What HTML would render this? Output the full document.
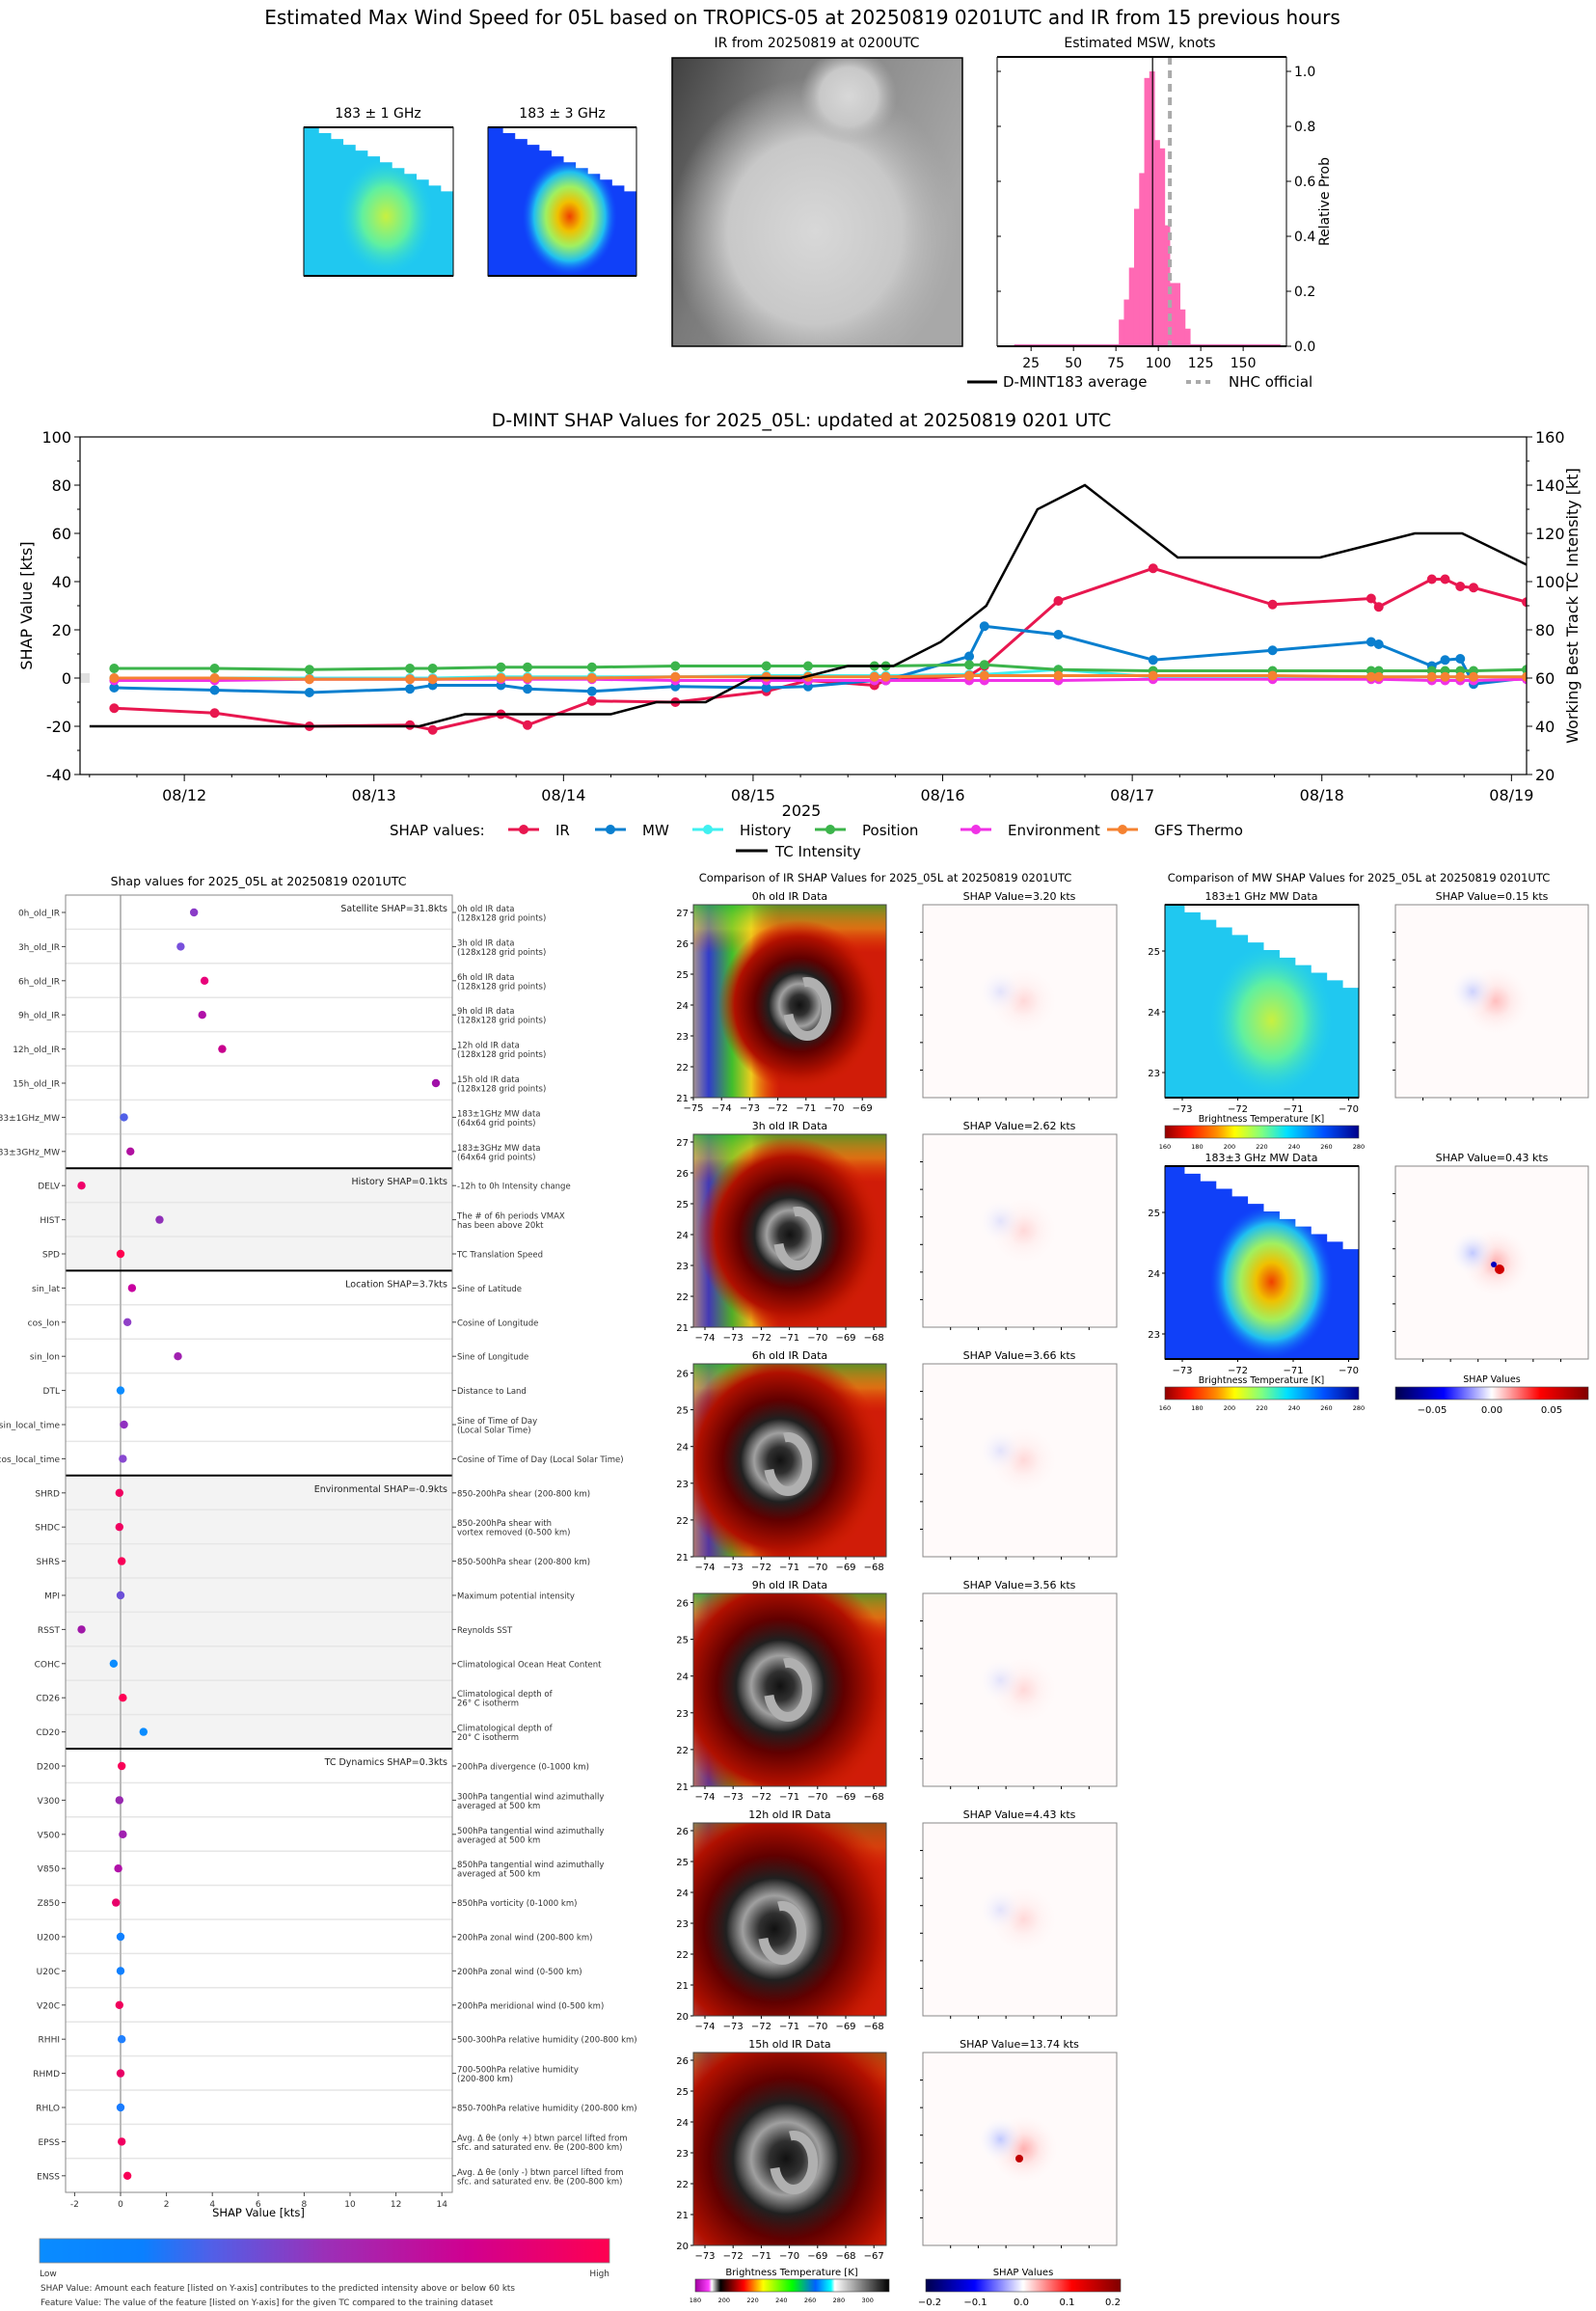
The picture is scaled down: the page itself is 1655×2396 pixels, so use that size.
<!DOCTYPE html>
<html><head><meta charset="utf-8">
<style>
html,body{margin:0;padding:0;background:#fff;}
svg{display:block;font-family:"DejaVu Sans","Liberation Sans",sans-serif;}
</style></head>
<body>
<svg id="fig" xmlns="http://www.w3.org/2000/svg" width="1655" height="2396" viewBox="0 0 1655 2396">
<defs>
<linearGradient id="irLeft" x1="0" x2="1" y1="0" y2="0">
<stop offset="0" stop-color="#a0a0a0"/><stop offset="0.08" stop-color="#2040e0"/><stop offset="0.2" stop-color="#30d030"/><stop offset="0.3" stop-color="#f0e020"/><stop offset="0.45" stop-color="#ff5000" stop-opacity="0"/>
</linearGradient>
<linearGradient id="irTop" x1="0" x2="0" y1="0" y2="1">
<stop offset="0" stop-color="#30c030"/><stop offset="0.5" stop-color="#f0e020" stop-opacity="0.6"/><stop offset="1" stop-color="#ff5000" stop-opacity="0"/>
</linearGradient>
<radialGradient id="irCore" cx="0.5" cy="0.5" r="0.5">
<stop offset="0" stop-color="#111"/><stop offset="0.12" stop-color="#303030"/><stop offset="0.25" stop-color="#a0a0a0"/><stop offset="0.38" stop-color="#202020"/><stop offset="0.55" stop-color="#600000"/><stop offset="0.8" stop-color="#b01000"/><stop offset="1" stop-color="#d02000" stop-opacity="0"/>
</radialGradient>
<radialGradient id="grayCore" cx="0.5" cy="0.5" r="0.5">
<stop offset="0" stop-color="#d8d8d8"/><stop offset="0.6" stop-color="#c8c8c8"/><stop offset="1" stop-color="#b0b0b0" stop-opacity="0"/>
</radialGradient>
<linearGradient id="grayBase" x1="0" x2="1" y1="0" y2="0.4">
<stop offset="0" stop-color="#404040"/><stop offset="0.35" stop-color="#7a7a7a"/><stop offset="1" stop-color="#a8a8a8"/>
</linearGradient>
<radialGradient id="mw1Core" cx="0.5" cy="0.5" r="0.5">
<stop offset="0" stop-color="#c8f040"/><stop offset="0.5" stop-color="#60f0a0"/><stop offset="1" stop-color="#20d0f0" stop-opacity="0"/>
</radialGradient>
<radialGradient id="mw2Core" cx="0.5" cy="0.5" r="0.5">
<stop offset="0" stop-color="#f04000"/><stop offset="0.25" stop-color="#f0c000"/><stop offset="0.5" stop-color="#a0f060"/><stop offset="0.75" stop-color="#20c0f0"/><stop offset="1" stop-color="#1050ff" stop-opacity="0"/>
</radialGradient>
<radialGradient id="shapCore" cx="0.5" cy="0.5" r="0.5">
<stop offset="0" stop-color="#ffb0b0"/><stop offset="0.4" stop-color="#ffe6e6"/><stop offset="1" stop-color="#fff" stop-opacity="0"/>
</radialGradient>
<radialGradient id="shapBlue" cx="0.5" cy="0.5" r="0.5">
<stop offset="0" stop-color="#c0c8ff"/><stop offset="1" stop-color="#fff" stop-opacity="0"/>
</radialGradient>
<linearGradient id="cbShap" x1="0" x2="1">
<stop offset="0" stop-color="#0a8cff"/><stop offset="0.18" stop-color="#0a80ff"/><stop offset="0.3" stop-color="#5060e8"/><stop offset="0.5" stop-color="#9b30b8"/><stop offset="0.75" stop-color="#d00090"/><stop offset="1" stop-color="#ff0050"/>
</linearGradient>
<linearGradient id="cbJet" x1="0" x2="1">
<stop offset="0" stop-color="#900000"/><stop offset="0.12" stop-color="#ff1000"/><stop offset="0.27" stop-color="#ff9000"/><stop offset="0.36" stop-color="#ffff00"/><stop offset="0.5" stop-color="#80ff80"/><stop offset="0.63" stop-color="#00e0ff"/><stop offset="0.82" stop-color="#0050ff"/><stop offset="1" stop-color="#00008a"/>
</linearGradient>
<linearGradient id="cbIR" x1="0" x2="1">
<stop offset="0" stop-color="#a000a0"/><stop offset="0.07" stop-color="#ff40ff"/><stop offset="0.085" stop-color="#ffffff"/><stop offset="0.13" stop-color="#000000"/><stop offset="0.25" stop-color="#ff0000"/><stop offset="0.35" stop-color="#ffff00"/><stop offset="0.5" stop-color="#00ff00"/><stop offset="0.62" stop-color="#0060ff"/><stop offset="0.7" stop-color="#00ffff"/><stop offset="0.72" stop-color="#ffffff"/><stop offset="1" stop-color="#000000"/>
</linearGradient>
<linearGradient id="cbSeis" x1="0" x2="1">
<stop offset="0" stop-color="#00004c"/><stop offset="0.25" stop-color="#0000ff"/><stop offset="0.5" stop-color="#ffffff"/><stop offset="0.75" stop-color="#ff0000"/><stop offset="1" stop-color="#800000"/>
</linearGradient>
<clipPath id="tsClip"><rect x="83" y="453" width="1500" height="350"/></clipPath>
</defs>
</svg>
<script>
// ---------- Time-series data ----------
const tsTimes=[0.63,1.16,1.66,2.19,2.31,2.67,2.81,3.15,3.59,4.07,4.29,4.64,4.70,5.14,5.22,5.61,6.11,6.74,7.26,7.30,7.58,7.65,7.73,7.80,8.08];
const irVals=[-12.5,-14.5,-20,-19.5,-21.5,-15,-19.5,-9.5,-10,-5.5,-1,-3,-1,1,5,32,45.5,30.5,33,29.5,41,41,38,37.5,31.5];
const mwVals=[-4,-5,-6,-4.5,-3,-3,-4.5,-5.5,-3.5,-4,-3.5,-1,-1,9,21.5,18,7.5,11.5,15,14,5,7.5,8,-2.5,0];
const historyVals=[0,0,0,0,0,0.5,0.5,0.5,0.5,1,1,1,1,1.5,1.5,3.5,0.5,0.5,0.5,0.5,0.5,0.5,0.5,0.5,0.5];
const positionVals=[4,4,3.5,4,4,4.5,4.5,4.5,5,5,5,5,5,5.5,5.5,3.5,3,3,3,3,3,3,3,3,3.5];
const environmentVals=[-1,-1,-0.5,-0.5,-0.5,-0.5,-0.5,-0.5,-1,-1,-1,-1,-1,-1,-1,-1,-0.5,-0.5,-0.5,-0.5,-1,-1,-1,-1,-0.5];
const gfsVals=[0,0,-0.5,-0.5,-0.5,0,0,0,0.5,0.5,0.5,0.5,0.5,1,1,1,1,1,0.5,0.5,0.5,0.5,0.5,0.5,0.5];
const tcTimes=[0.5,2.24,2.48,3.25,3.49,3.75,3.99,4.25,4.5,4.74,4.99,5.23,5.5,5.75,6.24,6.99,7.49,7.74,8.08];
const tcVals=[40,40,45,45,50,50,60,60,65,65,75,90,130,140,110,110,120,120,107];
const dateLabels=["08/12","08/13","08/14","08/15","08/16","08/17","08/18","08/19"];
const leftTicks=[-40,-20,0,20,40,60,80,100];
const rightTicks=[20,40,60,80,100,120,140,160];
// ---------- Histogram data ----------
const histBinStart=[76.7,79.7,82.7,85.7,88.7,91.7,94.7,97.7,100.7,103.7,106.7,109.7,112.7,115.7];
const histProbs=[0.097,0.17,0.286,0.50,0.63,0.976,1.0,0.75,0.72,0.44,0.23,0.23,0.134,0.064];
const mintAverage=96.6;
const nhcOfficial=106.8;
const histXTicks=[25,50,75,100,125,150];
const histYTicks=[0,0.2,0.4,0.6,0.8,1.0];
// ---------- SHAP feature data ----------
const featureNames=["0h_old_IR","3h_old_IR","6h_old_IR","9h_old_IR","12h_old_IR","15h_old_IR","183\u00b11GHz_MW","183\u00b13GHz_MW","DELV","HIST","SPD","sin_lat","cos_lon","sin_lon","DTL","sin_local_time","cos_local_time","SHRD","SHDC","SHRS","MPI","RSST","COHC","CD26","CD20","D200","V300","V500","V850","Z850","U200","U20C","V20C","RHHI","RHMD","RHLO","EPSS","ENSS"];
const featureShap=[3.20,2.62,3.66,3.56,4.43,13.74,0.15,0.43,-1.7,1.7,0.0,0.5,0.3,2.5,0.0,0.15,0.1,-0.05,-0.05,0.05,0.0,-1.7,-0.3,0.1,1.0,0.05,-0.05,0.1,-0.1,-0.2,0.0,0.0,-0.05,0.05,0.0,0.0,0.05,0.3];
const featureColors=["#8a3cc8","#7850dc","#e8007a","#b010a8","#c8008e","#a010a8","#5060e8","#b010a0","#f0006a","#9030b8","#ff0050","#c800a0","#9040c8","#a020b0","#0a8cff","#9030c0","#8848d0","#f00060","#f00060","#f80058","#6c50d8","#a018a8","#0a8cff","#ff0055","#0a8cff","#f80058","#9828b0","#a020b0","#b010a8","#e8006a","#1080ff","#1080ff","#f0005c","#2080ff","#e80066","#1a7cff","#f00060","#f80058"];
const featureDesc=[["0h old IR data","(128x128 grid points)"],["3h old IR data","(128x128 grid points)"],["6h old IR data","(128x128 grid points)"],["9h old IR data","(128x128 grid points)"],["12h old IR data","(128x128 grid points)"],["15h old IR data","(128x128 grid points)"],["183\u00b11GHz MW data","(64x64 grid points)"],["183\u00b13GHz MW data","(64x64 grid points)"],["-12h to 0h Intensity change"],["The # of 6h periods VMAX","has been above 20kt"],["TC Translation Speed"],["Sine of Latitude"],["Cosine of Longitude"],["Sine of Longitude"],["Distance to Land"],["Sine of Time of Day","(Local Solar Time)"],["Cosine of Time of Day (Local Solar Time)"],["850-200hPa shear (200-800 km)"],["850-200hPa shear with","vortex removed (0-500 km)"],["850-500hPa shear (200-800 km)"],["Maximum potential intensity"],["Reynolds SST"],["Climatological Ocean Heat Content"],["Climatological depth of","26\u00b0 C isotherm"],["Climatological depth of","20\u00b0 C isotherm"],["200hPa divergence (0-1000 km)"],["300hPa tangential wind azimuthally","averaged at 500 km"],["500hPa tangential wind azimuthally","averaged at 500 km"],["850hPa tangential wind azimuthally","averaged at 500 km"],["850hPa vorticity (0-1000 km)"],["200hPa zonal wind (200-800 km)"],["200hPa zonal wind (0-500 km)"],["200hPa meridional wind (0-500 km)"],["500-300hPa relative humidity (200-800 km)"],["700-500hPa relative humidity","(200-800 km)"],["850-700hPa relative humidity (200-800 km)"],["Avg. \u0394 \u03b8e (only +) btwn parcel lifted from","sfc. and saturated env. \u03b8e (200-800 km)"],["Avg. \u0394 \u03b8e (only -) btwn parcel lifted from","sfc. and saturated env. \u03b8e (200-800 km)"]];
const sectionStarts=[0,8,11,17,25];
const sectionLabels=["Satellite SHAP=31.8kts","History SHAP=0.1kts","Location SHAP=3.7kts","Environmental SHAP=-0.9kts","TC Dynamics SHAP=0.3kts"];
const sectionShaded=[false,true,false,true,false];
const shapXTicks=[-2,0,2,4,6,8,10,12,14];
// ---------- Image panel data ----------
const irTitles=["0h old IR Data","3h old IR Data","6h old IR Data","9h old IR Data","12h old IR Data","15h old IR Data"];
const irShapTitles=["SHAP Value=3.20 kts","SHAP Value=2.62 kts","SHAP Value=3.66 kts","SHAP Value=3.56 kts","SHAP Value=4.43 kts","SHAP Value=13.74 kts"];
const irLatLabels=[[21,27],[21,27],[21,26],[21,26],[20,26],[20,26]];
const irLonLabels=[[-75,-69],[-74,-68],[-74,-68],[-74,-68],[-74,-68],[-73,-67]];

const NS="http://www.w3.org/2000/svg";
const svg=document.getElementById('fig');
function mk(tag,a,p){const e=document.createElementNS(NS,tag);for(const k in a)e.setAttribute(k,a[k]);(p||svg).appendChild(e);return e;}
function T(x,y,s,size,anchor,p,extra){const e=mk('text',Object.assign({x:x,y:y,'font-size':size,'text-anchor':anchor||'start',fill:'#000'},extra||{}),p);e.textContent=s;return e;}

// ===== Top title =====
let t=T(832,25,"Estimated Max Wind Speed for 05L based on TROPICS-05 at 20250819 0201UTC and IR from 15 previous hours",20,'middle');


// ===== MW thumbnails =====
function mwImage(x,y,w,h,base,core,name){
  const g=mk('g',{});
  
  const cid='c'+name;const cp=mk('clipPath',{id:cid},g);mk('rect',{x:x,y:y,width:w,height:h},cp);
  const gi=mk('g',{'clip-path':'url(#'+cid+')'},g);
  mk('rect',{x:x,y:y,width:w,height:h,fill:base},gi);
  mk('ellipse',{cx:x+w*0.55,cy:y+h*0.6,rx:w*0.32,ry:h*0.4,fill:'url(#'+core+')'},gi);
  let pts=[x+w*0.02+','+y];const n=12;
  for(let i=0;i<=n;i++){const xx=x+w*0.02+(w*0.98)*i/n;const yy=y+h*0.47*i/n;pts.push(xx+','+yy);pts.push((xx+w*0.98/n)+','+yy);}
  pts.push((x+w)+','+y);
  mk('polygon',{points:pts.join(' '),fill:'#fff'},gi);
  mk('rect',{x:x,y:y,width:w,height:h,fill:'none',stroke:'#000','stroke-width':1},g);
  mk('line',{x1:x,y1:y,x2:x+w,y2:y,stroke:'#000','stroke-width':2},g);
  mk('line',{x1:x,y1:y+h,x2:x+w,y2:y+h,stroke:'#000','stroke-width':2},g);
  return g;
}
mwImage(315,132,155,154,'#20c8f0','mw1Core','mw-183-1-image');
mwImage(506,132,154,154,'#1040f8','mw2Core','mw-183-3-image');
t=T(392,122,"183 \u00b1 1 GHz",14,'middle');
t=T(583,122,"183 \u00b1 3 GHz",14,'middle');

// ===== Gray IR =====
(function(){
  const g=mk('g',{});
  const cp=mk('clipPath',{id:'cgray'},g);mk('rect',{x:697,y:60,width:301,height:299},cp);
  const gi=mk('g',{'clip-path':'url(#cgray)'},g);
  mk('rect',{x:697,y:60,width:301,height:299,fill:'url(#grayBase)'},gi);
  mk('ellipse',{cx:845,cy:240,rx:150,ry:160,fill:'url(#grayCore)'},gi);
  mk('ellipse',{cx:880,cy:100,rx:50,ry:50,fill:'url(#grayCore)'},gi);
  mk('rect',{x:697,y:60,width:301,height:299,fill:'none',stroke:'#000','stroke-width':1.5},g);
})();
t=T(847,49,"IR from 20250819 at 0200UTC",14,'middle');

// ===== Histogram =====
(function(){
  const L=1034,R=1334,TOP=59,B=359;const xmin=5,xmax=175.5;
  const hx=v=>L+(v-xmin)/(xmax-xmin)*(R-L);const hy=v=>B-v*285;
  const g=mk('g',{});
  t=T(1182,49,"Estimated MSW, knots",14,'middle',g);
  mk('line',{x1:hx(15),x2:hx(172),y1:hy(0.004),y2:hy(0.004),stroke:'#ff69b4','stroke-width':2},g);
  histProbs.forEach((p,i)=>{const b=mk('rect',{x:hx(histBinStart[i]),y:hy(p),width:hx(histBinStart[i]+3)-hx(histBinStart[i])+0.5,height:B-hy(p),fill:'#ff69b4'},g);
    });
  let l=mk('line',{x1:hx(mintAverage),x2:hx(mintAverage),y1:TOP,y2:B,stroke:'#000','stroke-width':1.2},g);
  
  l=mk('line',{x1:hx(nhcOfficial),x2:hx(nhcOfficial),y1:TOP,y2:B,stroke:'#aaa','stroke-width':4,'stroke-dasharray':'8,6'},g);
  
  mk('line',{x1:L,x2:L,y1:TOP,y2:B,stroke:'#000','stroke-width':1},g);
  mk('line',{x1:R,x2:R,y1:TOP,y2:B,stroke:'#000','stroke-width':1},g);
  mk('line',{x1:L,x2:R,y1:TOP,y2:TOP,stroke:'#000','stroke-width':2},g);
  mk('line',{x1:L,x2:R,y1:B,y2:B,stroke:'#000','stroke-width':2},g);
  histXTicks.forEach(v=>{mk('line',{x1:hx(v),x2:hx(v),y1:B,y2:B+5,stroke:'#000'},g);const tt=T(hx(v),B+22,String(v),14,'middle',g);});
  histYTicks.forEach(v=>{mk('line',{x1:R,x2:R+5,y1:hy(v),y2:hy(v),stroke:'#000'},g);mk('line',{x1:L,x2:L+4,y1:hy(v),y2:hy(v),stroke:'#000'},g);const tt=T(R+8,hy(v)+5,v.toFixed(1),14,'start',g);});
  t=T(0,0,"Relative Prob",14,'middle',g,{transform:'translate(1378,209) rotate(-90)'});
  mk('line',{x1:1003,x2:1034,y1:396,y2:396,stroke:'#000','stroke-width':3},g);
  t=T(1040,401,"D-MINT183 average",15,'start',g);
  mk('line',{x1:1230,x2:1258,y1:396,y2:396,stroke:'#aaa','stroke-width':4,'stroke-dasharray':'5,5'},g);
  t=T(1274,401,"NHC official",15,'start',g);
})();

// ===== Time series =====
(function(){
  const L=83,R=1583,TOP=453,B=803;
  const X=d=>L+(d-0.45)*196.6;const YL=v=>B-(v+40)*2.5;const YR=v=>B-(v-20)*2.5;
  const g=mk('g',{});
  t=T(831,442,"D-MINT SHAP Values for 2025_05L: updated at 20250819 0201 UTC",19,'middle',g);
  mk('rect',{x:L,y:YL(0)-5,width:10,height:10,fill:'#e0e0e0'},g);
  const series=[["ir",irVals,"#e8174f"],["mw",mwVals,"#0a7fcf"],["history",historyVals,"#40f0f0"],["position",positionVals,"#3cb44b"],["environment",environmentVals,"#f032e6"],["gfs-thermo",gfsVals,"#f58231"]];
  const cg=mk('g',{'clip-path':'url(#tsClip)'},g);
  const order=[2,0,1,3,4,5];
  order.forEach(si=>{const s=series[si];
    const pl=mk('polyline',{points:tsTimes.map((d,i)=>X(d)+','+YL(s[1][i])).join(' '),fill:'none',stroke:s[2],'stroke-width':3},cg);
    
    tsTimes.forEach((d,i)=>{const c=mk('circle',{cx:X(d),cy:YL(s[1][i]),r:5,fill:s[2]},cg);});
  });
  const tc=mk('polyline',{points:tcTimes.map((d,i)=>X(d)+','+YR(tcVals[i])).join(' '),fill:'none',stroke:'#000','stroke-width':2.5},cg);
  
  mk('rect',{x:L,y:TOP,width:R-L,height:B-TOP,fill:'none',stroke:'#000','stroke-width':1.2},g);
  leftTicks.forEach(v=>{mk('line',{x1:L-6,x2:L,y1:YL(v),y2:YL(v),stroke:'#000'},g);const tt=T(L-9,YL(v)+6,String(v),16,'end',g);});
  for(let v=-30;v<100;v+=20){mk('line',{x1:L-3,x2:L,y1:YL(v),y2:YL(v),stroke:'#000'},g);}
  rightTicks.forEach(v=>{mk('line',{x1:R,x2:R+6,y1:YR(v),y2:YR(v),stroke:'#000'},g);const tt=T(R+9,YR(v)+6,String(v),16,'start',g);});
  for(let v=30;v<160;v+=20){mk('line',{x1:R,x2:R+3,y1:YR(v),y2:YR(v),stroke:'#000'},g);}
  dateLabels.forEach((s,i)=>{const x=X(i+1);mk('line',{x1:x,x2:x,y1:B,y2:B+7,stroke:'#000'},g);const tt=T(x,B+27,s,16,'middle',g);});
  for(let d=0.5;d<8.1;d+=0.25){if(Math.abs(d-Math.round(d))>0.01)mk('line',{x1:X(d),x2:X(d),y1:B,y2:B+3,stroke:'#000'},g);}
  t=T(831,846,"2025",16,'middle',g);
  t=T(0,0,"SHAP Value [kts]",16,'middle',g,{transform:'translate(33,628) rotate(-90)'});
  t=T(0,0,"Working Best Track TC Intensity [kt]",16,'middle',g,{transform:'translate(1636,628) rotate(-90)'});
  // legend
  t=T(404,866,"SHAP values:",15,'start',g);
  const lm=[543,633,734,861,1012,1164],lt=[576,666,767,894,1045,1197],labs=["IR","MW","History","Position","Environment","GFS Thermo"];
  series.forEach((s,i)=>{const lg=mk('g',{},g);
    mk('line',{x1:lm[i]-16,x2:lm[i]+16,y1:860,y2:860,stroke:s[2],'stroke-width':3},lg);mk('circle',{cx:lm[i],cy:860,r:5,fill:s[2]},lg);T(lt[i],866,labs[i],15,'start',lg);});
  const lg=mk('g',{},g);
  mk('line',{x1:763,x2:796,y1:882,y2:882,stroke:'#000','stroke-width':3},lg);T(804,888,"TC Intensity",15,'start',lg);
})();

// ===== SHAP dot plot =====
(function(){
  const L=68,R=469,TOP=928,B=2273,rh=35.4;
  const X=v=>125+v*23.8;const Y=i=>946+i*rh;
  const g=mk('g',{});
  t=T(268,918,"Shap values for 2025_05L at 20250819 0201UTC",12.5,'middle',g);
  sectionStarts.forEach((s,k)=>{const e=k<4?sectionStarts[k+1]:38;
    if(sectionShaded[k])mk('rect',{x:L,y:TOP+s*rh,width:R-L,height:(e-s)*rh,fill:'#f3f3f3'},g);
    const st=T(R-5,Y(s)-1,sectionLabels[k],9.5,'end',g,{fill:'#222'});});
  for(let i=1;i<38;i++){mk('line',{x1:L,x2:R,y1:TOP+i*rh,y2:TOP+i*rh,stroke:'#e6e6e6','stroke-width':1.5},g);}
  mk('line',{x1:X(0),x2:X(0),y1:TOP,y2:B,stroke:'#bbb','stroke-width':2},g);
  sectionStarts.slice(1).forEach(s=>mk('line',{x1:L,x2:R,y1:TOP+s*rh,y2:TOP+s*rh,stroke:'#000','stroke-width':2},g));
  mk('rect',{x:L,y:TOP,width:R-L,height:B-TOP,fill:'none',stroke:'#888','stroke-width':1},g);
  featureNames.forEach((n,i)=>{const y=Y(i);
    mk('line',{x1:L-4,x2:L,y1:y,y2:y,stroke:'#444'},g);mk('line',{x1:R,x2:R+4,y1:y,y2:y,stroke:'#444'},g);
    const lt=T(L-6,y+3.5,n,9,'end',g,{fill:'#333'});
    const c=mk('circle',{cx:X(featureShap[i]),cy:y,r:4.2,fill:featureColors[i]},g);
    const d=featureDesc[i];
    if(d.length===1){const dt=T(474,y+3.5,d[0],8.5,'start',g,{fill:'#333'});}
    else{const dt=T(474,y-1,d[0],8.5,'start',g,{fill:'#333'});T(474,y+8.5,d[1],8.5,'start',g,{fill:'#333'});}
  });
  shapXTicks.forEach(v=>{mk('line',{x1:X(v),x2:X(v),y1:B,y2:B+4,stroke:'#444'},g);const tt=T(X(v),B+15,String(v),9,'middle',g,{fill:'#333'});});
  t=T(268,2298,"SHAP Value [kts]",11.5,'middle',g);
  let cb=mk('rect',{x:41,y:2321,width:591,height:25,fill:'url(#cbShap)',stroke:'#888','stroke-width':0.8},g);
  T(41,2360,"Low",9,'start',g,{fill:'#333'});T(632,2360,"High",9,'end',g,{fill:'#333'});
  t=T(42,2375,"SHAP Value: Amount each feature [listed on Y-axis] contributes to the predicted intensity above or below 60 kts",8.8,'start',g,{fill:'#333'});
  t=T(42,2390,"Feature Value: The value of the feature [listed on Y-axis] for the given TC compared to the training dataset",8.8,'start',g,{fill:'#333'});
})();

// ===== IR comparison panels =====
t=T(918,914,"Comparison of IR SHAP Values for 2025_05L at 20250819 0201UTC",11.5,'middle');
t=T(1409,914,"Comparison of MW SHAP Values for 2025_05L at 20250819 0201UTC",11.5,'middle');
const irTops=[938,1176,1414,1652,1890,2128];
const eyePos=[[0.55,0.52],[0.5,0.52],[0.45,0.5],[0.45,0.48],[0.42,0.55],[0.48,0.55]];
function stormImage(x,y,w,h,k){
  const g=mk('g',{});
  const cp=mk('clipPath',{id:'cir'+k},g);mk('rect',{x:x,y:y,width:w,height:h},cp);
  const gi=mk('g',{'clip-path':'url(#cir'+k+')'},g);
  mk('rect',{x:x,y:y,width:w,height:h,fill:'#d01c08'},gi);
  mk('rect',{x:x,y:y,width:w,height:h,fill:'url(#irLeft)',opacity:0.9-k*0.1},gi);
  mk('rect',{x:x,y:y,width:w,height:h*0.25,fill:'url(#irTop)',opacity:k<4?0.7:0.3},gi);
  const ex=x+w*eyePos[k][0],ey=y+h*eyePos[k][1],r=w*(0.42+k*0.06);
  mk('ellipse',{cx:ex,cy:ey,rx:r,ry:r*1.05,fill:'url(#irCore)'},gi);
  mk('ellipse',{cx:ex+8,cy:ey+4,rx:w*0.1,ry:h*0.14,fill:'none',stroke:'#b0b0b0','stroke-width':10,'stroke-dasharray':'70,40'},gi);
  mk('rect',{x:x,y:y,width:w,height:h,fill:'none',stroke:'#444','stroke-width':1},g);
  const lat=irLatLabels[k];for(let v=lat[0];v<=lat[1];v++){const yy=y+h-(v-lat[0]+0.0)/(lat[1]-lat[0]+0.25)*h;mk('line',{x1:x-3,x2:x,y1:yy,y2:yy,stroke:'#000'},g);const tt=T(x-5,yy+4,String(v),10,'end',g);}
  const lon=irLonLabels[k];for(let v=lon[0];v<=lon[1];v++){const xx=x+(k===0?0:12)+(v-lon[0])*29.2;mk('line',{x1:xx,x2:xx,y1:y+h,y2:y+h+3,stroke:'#000'},g);const tt=T(xx,y+h+14,"\u2212"+Math.abs(v),10,'middle',g);}
}
function shapImage(x,y,w,h,name,strength){
  const g=mk('g',{});
  mk('rect',{x:x,y:y,width:w,height:h,fill:'#fffafa',stroke:'#888','stroke-width':1},g);
  mk('ellipse',{cx:x+w*0.52,cy:y+h*0.5,rx:w*0.2,ry:h*0.2,fill:'url(#shapCore)',opacity:strength},g);
  mk('ellipse',{cx:x+w*0.4,cy:y+h*0.45,rx:w*0.12,ry:h*0.12,fill:'url(#shapBlue)',opacity:strength},g);
  for(let i=1;i<7;i++){mk('line',{x1:x+i*w/7,x2:x+i*w/7,y1:y+h,y2:y+h+3,stroke:'#000'},g);mk('line',{x1:x-3,x2:x,y1:y+i*h/7,y2:y+i*h/7,stroke:'#000'},g);}
  return g;
}
irTops.forEach((y,k)=>{
  stormImage(719,y,200,200,k);
  let tt=T(819,y-5,irTitles[k],11,'middle');
  shapImage(957,y,201,200,'ir-shap-map-'+k,k===5?1:0.45);
  if(k===5){mk('circle',{cx:957+100,cy:y+110,r:4,fill:'#c00000'});}
  tt=T(1057,y-5,irShapTitles[k],11,'middle');
});
// bottom colorbars
let cb=mk('rect',{x:721,y:2363,width:201,height:13,fill:'url(#cbIR)',stroke:'#444','stroke-width':0.6});
t=T(821,2359,"Brightness Temperature [K]",10,'middle');
[180,200,220,240,260,280,300].forEach((v,i)=>{const xx=721+(v-180)/135*201;T(xx,2387,String(v),6.5,'middle');});
cb=mk('rect',{x:960,y:2363,width:202,height:13,fill:'url(#cbSeis)',stroke:'#444','stroke-width':0.6});
t=T(1061,2359,"SHAP Values",10,'middle');
["\u22120.2","\u22120.1","0.0","0.1","0.2"].forEach((s,i)=>T(964+i*47.5,2390,s,10,'middle'));

// ===== MW comparison panels =====
function mwPanel(y,base,core,title,shapTitle,k,strength){
  mwImage(1208,y,201,200,base,core,'mw-comparison-image-'+k);
  let tt=T(1308,y-5,title,11,'middle');
  [-73,-72,-71,-70].forEach((v,i)=>{const xx=1226+i*57.5;mk('line',{x1:xx,x2:xx,y1:y+200,y2:y+203,stroke:'#000'});T(xx,y+215,"\u2212"+Math.abs(v),10,'middle');});
  [25,24,23].forEach((v,i)=>{const yy=y+48+i*63;mk('line',{x1:1205,x2:1208,y1:yy,y2:yy,stroke:'#000'});T(1203,yy+4,String(v),10,'end');});
  shapImage(1447,y,200,200,'mw-shap-map-'+k,strength);
  tt=T(1547,y-5,shapTitle,11,'middle');
  const c=mk('rect',{x:1208,y:y+229,width:201,height:13,fill:'url(#cbJet)',stroke:'#444','stroke-width':0.6});
  T(1308,y+225,"Brightness Temperature [K]",9.5,'middle');
  [160,180,200,220,240,260,280].forEach((v,i)=>T(1208+i*33.5,y+253,String(v),6.5,'middle'));
}
mwPanel(938,'#20c8f0','mw1Core','183\u00b11 GHz MW Data','SHAP Value=0.15 kts',0,0.8);
mwPanel(1209,'#1040f8','mw2Core','183\u00b13 GHz MW Data','SHAP Value=0.43 kts',1,1);
mk('circle',{cx:1555,cy:1316,r:5,fill:'#d00000'});mk('circle',{cx:1549,cy:1311,r:3,fill:'#0000c0'});
cb=mk('rect',{x:1447,y:1438,width:200,height:13,fill:'url(#cbSeis)',stroke:'#444','stroke-width':0.6});
t=T(1547,1433,"SHAP Values",9.5,'middle');
["\u22120.05","0.00","0.05"].forEach((s,i)=>T(1485+i*62,1465,s,10,'middle'));
</script>
</body></html>
